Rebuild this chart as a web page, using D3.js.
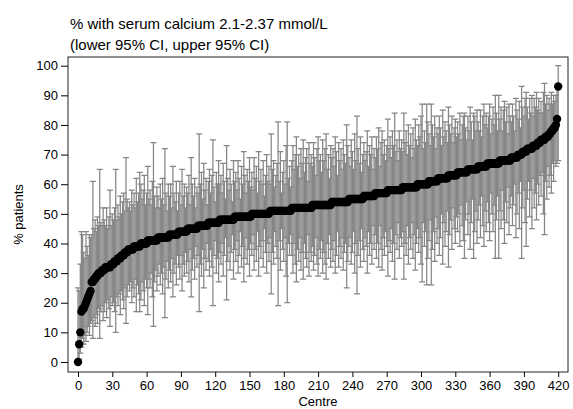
<!DOCTYPE html>
<html>

<head>
  <meta charset="utf-8">
  <title>% with serum calcium 2.1-2.37 mmol/L</title>

  <style>
    body {
      margin: 0;
      background: #fff;
    }

    svg {
      display: block;
      font-family: "Liberation Sans", Arial, sans-serif;
    }

    svg .tick line {
      stroke: #000;
    }

    svg .tick text {
      font-size: 13px;
      fill: #000;
    }

    svg .ci-bar {
      stroke: #868686;
      stroke-width: 1.25px;
      fill: none;
    }
  </style>
</head>

<body>
  <svg width="573" height="409"></svg>

  <script src="https://d3js.org/d3.v7.min.js"></script>

  <script>
    // centres sorted by % of patients in range (rank 0..420)
    var pct = [
      0, 6, 10, 17, 18, 18, 19, 20, 21, 22, 23, 24,
      27, 27, 28, 28, 29, 29, 30, 30, 30, 31, 31,
      31, 32, 32, 32, 32, 32, 33, 33,
      33, 34, 34, 34, 35, 35, 35, 36, 36, 36, 37, 37, 37, 38,
      38, 38, 38, 38, 39, 39, 39, 39, 39, 39, 40, 40, 40, 40, 40, 40, 41,
      41, 41, 41, 41, 41, 41, 41, 41,
      42, 42, 42, 42, 42, 42, 42, 42, 42, 42,
      43, 43, 43, 43, 43, 43, 43, 43,
      44, 44, 44, 44, 44, 44, 44, 44,
      45, 45, 45, 45, 45, 45, 45, 45, 45,
      46, 46, 46, 46, 46, 46, 46, 46, 46,
      47, 47, 47, 47, 47, 47, 47, 47, 47, 47,
      48, 48, 48, 48, 48, 48, 48, 48, 48, 48, 48, 48, 48,
      49, 49, 49, 49, 49, 49, 49, 49, 49, 49, 49, 49, 49, 49, 49,
      50, 50, 50, 50, 50, 50, 50, 50, 50, 50, 50, 50, 50, 50, 50, 50,
      51, 51, 51, 51, 51, 51, 51, 51, 51, 51, 51, 51, 51, 51, 51, 51, 51, 51, 51,
      52, 52, 52, 52, 52, 52, 52, 52, 52, 52, 52, 52, 52, 52, 52, 52, 52, 52,
      53, 53, 53, 53, 53, 53, 53, 53, 53, 53, 53, 53, 53, 53, 53, 53, 53,
      54, 54, 54, 54, 54, 54, 54, 54, 54, 54, 54, 54, 54, 54, 54,
      55, 55, 55, 55, 55, 55, 55, 55, 55, 55, 55, 55, 55,
      56, 56, 56, 56, 56, 56, 56, 56, 56, 56,
      57, 57, 57, 57, 57, 57, 57, 57, 57, 57, 57,
      58, 58, 58, 58, 58, 58, 58, 58, 58, 58, 58, 58, 58,
      59, 59, 59, 59, 59, 59, 59, 59, 59, 59, 59, 59, 59,
      60, 60, 60, 60, 60, 60, 60, 60, 60, 60,
      61, 61, 61, 61, 61, 61, 61, 61,
      62, 62, 62, 62, 62, 62, 62, 62, 62,
      63, 63, 63, 63, 63, 63, 63, 63,
      64, 64, 64, 64, 64, 64, 64, 64, 64,
      65, 65, 65, 65, 65, 65, 65, 65, 65,
      66, 66, 66, 66, 66, 66, 66, 66,
      67, 67, 67, 67, 67, 67, 67, 67, 67, 67, 67,
      68, 68, 68, 68, 68, 68, 68, 68, 68, 68,
      69, 69, 69, 69, 69, 69,
      70, 70, 70, 70,
      71, 71, 71, 71,
      72, 72, 72, 72, 72,
      73, 73, 73, 73,
      74, 74, 74,
      75, 75, 75, 75,
      76, 76, 76,
      77, 77, 78, 78, 79, 79, 80, 82, 93
    ];

    // lower 95% CI for each centre, same order
    var lower = [
      0, 1, 3, 5, 8, 6, 9, 7, 10, 12, 9, 13,
      14, 8, 15, 12, 16, 13, 18, 8, 17, 19, 14,
      17, 20, 15, 21, 18, 12, 22, 19,
      20, 17, 10, 22, 19, 23, 16, 24, 21, 18, 25, 13, 22, 26,
      24, 27, 20, 25, 22, 28, 17, 26, 23, 17, 21, 27, 24, 19, 28, 25, 16,
      28, 25, 30, 22, 12, 27, 31, 24,
      29, 33, 26, 30, 23, 32, 15, 28, 34, 25,
      31, 27, 35, 22, 30, 33, 26, 36,
      32, 28, 36, 24, 33, 29, 37, 30,
      34, 27, 38, 22, 31, 35, 28, 39, 32,
      36, 17, 33, 29, 38, 25, 35, 31, 40,
      34, 29, 38, 32, 19, 36, 41, 30, 35, 27,
      37, 33, 40, 29, 36, 42, 21, 34, 39, 31, 37, 43, 28,
      38, 34, 41, 30, 36, 44, 32, 39, 27, 35, 42, 33, 38, 29, 40,
      36, 43, 31, 38, 34, 44, 29, 39, 35, 41, 32, 45, 37, 30, 40, 34,
      42, 23, 37, 33, 44, 39, 35, 19, 41, 31, 45, 38, 34, 42, 29, 20, 40, 36, 43,
      36, 30, 40, 33, 27, 38, 34, 42, 31, 37, 28, 40, 35, 32, 43, 29, 37, 34,
      39, 31, 36, 42, 33, 29, 38, 35, 41, 30, 37, 33, 28, 40, 35, 43, 32,
      38, 34, 41, 30, 36, 44, 32, 39, 35, 42, 31, 37, 40, 25, 34,
      39, 42, 33, 37, 44, 30, 40, 23, 36, 41, 32, 45, 38,
      34, 42, 39, 30, 44, 36, 40, 33, 46, 38,
      43, 35, 40, 32, 46, 38, 31, 42, 36, 44, 39,
      29, 41, 37, 45, 34, 40, 28, 43, 38, 47, 35, 42, 39,
      44, 28, 40, 36, 46, 33, 42, 38, 47, 35, 43, 31, 40,
      45, 37, 42, 33, 27, 47, 39, 44, 26, 35,
      41, 48, 26, 38, 44, 34, 49, 40,
      45, 36, 42, 50, 33, 47, 39, 44, 51,
      32, 43, 48, 38, 52, 45, 40, 49,
      44, 50, 39, 53, 46, 41, 35, 48, 54,
      43, 50, 38, 47, 55, 35, 44, 51, 40,
      48, 53, 42, 56, 46, 39, 51, 44,
      54, 47, 41, 57, 50, 44, 53, 35, 48, 56, 35,
      51, 45, 58, 48, 40, 54, 47, 59, 43, 52,
      56, 46, 53, 60, 42, 50,
      57, 45, 61, 35,
      52, 58, 47, 39,
      55, 61, 49, 58, 45,
      62, 52, 57, 48,
      60, 53, 63,
      56, 64, 50, 43,
      61, 55, 66,
      59, 63, 57, 67, 61, 68, 66, 67, 68
    ];

    // upper 95% CI for each centre, same order
    var upper = [
      25, 24, 33, 44, 43, 37, 35, 44, 39, 36, 43, 42,
      43, 61, 45, 48, 44, 49, 46, 65, 47, 46, 52,
      48, 46, 52, 45, 49, 58, 46, 50,
      48, 52, 65, 48, 53, 49, 56, 50, 54, 57, 51, 69, 55, 52,
      54, 51, 58, 53, 57, 52, 62, 54, 57, 64, 60, 55, 58, 63, 53, 57, 66,
      55, 58, 53, 61, 74, 56, 52, 59,
      56, 52, 60, 55, 62, 53, 72, 57, 51, 60,
      56, 60, 52, 66, 57, 54, 61, 51,
      57, 61, 53, 65, 56, 60, 52, 59,
      57, 63, 53, 69, 60, 56, 62, 52, 59,
      57, 77, 60, 64, 55, 67, 58, 62, 53,
      61, 65, 57, 63, 75, 59, 54, 64, 60, 68,
      60, 63, 57, 67, 61, 55, 73, 62, 58, 65, 60, 54, 68,
      61, 64, 58, 68, 62, 55, 66, 60, 71, 63, 57, 65, 61, 69, 59,
      64, 58, 69, 62, 66, 57, 71, 61, 65, 60, 68, 56, 63, 70, 61, 66,
      60, 77, 65, 68, 59, 63, 67, 81, 61, 71, 57, 64, 68, 60, 73, 81, 62, 66, 59,
      68, 73, 65, 70, 76, 66, 70, 62, 72, 67, 75, 64, 69, 72, 61, 74, 67, 70,
      66, 74, 69, 63, 72, 76, 68, 70, 64, 75, 68, 72, 77, 65, 70, 62, 73,
      69, 72, 66, 76, 71, 63, 74, 68, 72, 65, 75, 70, 67, 80, 73,
      69, 66, 75, 71, 65, 77, 68, 83, 72, 67, 76, 64, 70,
      74, 68, 71, 78, 66, 73, 70, 76, 65, 72,
      69, 76, 72, 79, 66, 74, 78, 70, 75, 68, 73,
      82, 72, 76, 69, 78, 73, 84, 71, 75, 68, 78, 72, 75,
      71, 84, 74, 78, 70, 80, 73, 77, 69, 79, 72, 82, 75,
      73, 80, 76, 83, 87, 72, 78, 74, 87, 81,
      77, 73, 87, 80, 76, 83, 72, 79,
      77, 83, 79, 73, 85, 76, 81, 78, 74,
      86, 80, 77, 83, 74, 79, 82, 76,
      81, 77, 84, 75, 80, 83, 84, 79, 75,
      83, 78, 86, 81, 75, 84, 83, 78, 85,
      81, 78, 85, 76, 83, 87, 80, 84,
      79, 83, 87, 77, 82, 86, 80, 90, 84, 78, 90,
      82, 86, 78, 85, 88, 81, 86, 77, 87, 83,
      81, 87, 83, 78, 89, 85,
      82, 88, 79, 93,
      86, 83, 89, 91,
      86, 82, 89, 84, 90,
      83, 89, 86, 91,
      85, 89, 84,
      88, 84, 91, 94,
      87, 90, 85,
      89, 87, 91, 87, 90, 88, 90, 93, 100
    ];

    var xTicks = d3.range(0, 421, 30);
    var yTicks = d3.range(0, 101, 10);

    var titleLines = ['% with serum calcium 2.1-2.37 mmol/L', '(lower 95% CI, upper 95% CI)'];

    var svg = d3.select('svg');

    // plot region (frame) and the scales inside it
    var frame = { left: 68, right: 568, top: 57, bottom: 372 };

    var x = d3.scaleLinear()
      .domain([0, 420])
      .range([78, 558.2]);

    var y = d3.scaleLinear()
      .domain([0, 100])
      .range([362, 65.7]);

    var centres = pct.map(function(p, i) {
      return { rank: i, pct: p, lo: lower[i], hi: upper[i] };
    });

    // error bars: vertical line plus a cap at each end
    var capHalf = 3;
    var bars = svg.append('g');

    bars.selectAll('path')
      .data(centres)
      .join('path')
      .attr('class', 'ci-bar')
      .attr('d', function(d) {
        var cx = x(d.rank);
        var y0 = y(d.lo);
        var y1 = y(d.hi);
        return 'M' + cx + ',' + y0 + 'V' + y1 +
          'M' + (cx - capHalf) + ',' + y1 + 'H' + (cx + capHalf) +
          'M' + (cx - capHalf) + ',' + y0 + 'H' + (cx + capHalf);
      });

    // point estimates on top
    svg.append('g')
      .selectAll('circle')
      .data(centres)
      .join('circle')
      .attr('cx', function(d) { return x(d.rank); })
      .attr('cy', function(d) { return y(d.pct); })
      .attr('r', 4.2)
      .attr('fill', '#000');

    // frame
    svg.append('rect')
      .attr('x', frame.left)
      .attr('y', frame.top)
      .attr('width', frame.right - frame.left)
      .attr('height', frame.bottom - frame.top)
      .attr('fill', 'none')
      .attr('stroke', '#222')
      .attr('stroke-width', 1);

    var yAxis = svg.append('g')
      .attr('transform', 'translate(' + frame.left + ',0)')
      .call(d3.axisLeft(y).tickValues(yTicks).tickSize(7).tickPadding(3));
    yAxis.select('.domain').remove();

    var xAxis = svg.append('g')
      .attr('transform', 'translate(0,' + frame.bottom + ')')
      .call(d3.axisBottom(x).tickValues(xTicks).tickSize(5).tickPadding(4));
    xAxis.select('.domain').remove();

    svg.selectAll('.tick text').attr('font-family', null);

    // axis titles
    svg.append('text')
      .attr('x', (frame.left + frame.right) / 2)
      .attr('y', 406)
      .attr('text-anchor', 'middle')
      .attr('font-size', 13)
      .text('Centre');

    svg.append('text')
      .attr('transform', 'translate(23,' + ((frame.top + frame.bottom) / 2) + ') rotate(-90)')
      .attr('text-anchor', 'middle')
      .attr('font-size', 13)
      .text('% patients');

    // chart title, two lines
    svg.append('g')
      .selectAll('text')
      .data(titleLines)
      .join('text')
      .attr('x', 70)
      .attr('y', function(d, i) { return 28.5 + i * 21; })
      .attr('font-size', 15)
      .text(function(d) { return d; });
  </script>
</body>

</html>
